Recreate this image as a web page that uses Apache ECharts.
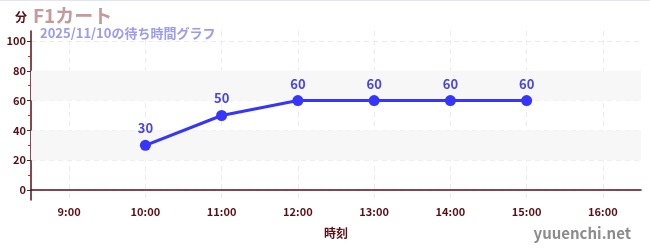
<!DOCTYPE html>
<html><head><meta charset="utf-8">
<script src="https://cdn.jsdelivr.net/npm/echarts@6/dist/echarts.min.js"></script>
<style>html,body{margin:0;padding:0;background:#fff}#c{width:650px;height:250px;box-sizing:border-box;border-top:1px solid #e4e4f8}</style>
</head><body><div id="c"></div>
<script>
const categories = ['9:00','10:00','11:00','12:00','13:00','14:00','15:00','16:00'];
const waitTimes = [null, 30, 50, 60, 60, 60, 60, null];
const yTicks = [0, 20, 40, 60, 80, 100];
const bands = [[20, 40], [60, 80]];
const titleText = 'F1カート';
const subText = '2025/11/10の待ち時間グラフ';

const axisColor = '#5a0f14';
const font = '"Noto Sans CJK JP", "Noto Sans", sans-serif';
const chart = echarts.init(document.getElementById('c'));
chart.setOption({
  animation: false,
  textStyle: {fontFamily: font},
  title: [{
    text: titleText, left: 28, top: 0,
    textStyle: {fontFamily: font, fontSize: 19, fontWeight: 'bold', color: '#c49a9a'}
  }, {
    text: subText, left: 35, top: 21,
    textStyle: {fontFamily: font, fontSize: 13, fontWeight: 'bold', color: '#9a9cf0'}
  }, {
    text: 'yuuenchi.net', right: 14, bottom: 4,
    textStyle: {fontFamily: font, fontSize: 15, fontWeight: 'bold', color: '#8c8c8c'}
  }],
  grid: {left: 31, right: 9, top: 30, bottom: 50, containLabel: false},
  xAxis: {
    type: 'category', data: categories, boundaryGap: true,
    name: '時刻', nameLocation: 'middle', nameGap: 27,
    nameTextStyle: {color: axisColor, fontSize: 12, fontWeight: 'bold', fontFamily: font},
    axisLine: {lineStyle: {color: axisColor, width: 1.5}},
    axisTick: {alignWithLabel: true, length: 4, lineStyle: {color: '#333'}},
    axisLabel: {color: axisColor, fontSize: 11, fontWeight: 'bold', margin: 6, fontFamily: font},
    splitLine: {show: true, alignWithLabel: true, lineStyle: {color: '#ececec', type: [5, 4]}}
  },
  yAxis: {
    type: 'value', min: -6.667, max: 106.667, splitNumber: 5,
    name: '分', nameLocation: 'end', nameGap: 8,
    nameTextStyle: {color: axisColor, fontSize: 12, fontWeight: 'bold', fontFamily: font, align: 'right', padding: [0, 4, 0, 0]},
    axisLine: {show: true, lineStyle: {color: axisColor, width: 1.5}},
    axisTick: {show: true, length: 4, lineStyle: {color: '#333'},
      customValues: yTicks},
    minorTick: {show: true, splitNumber: 2, length: 3, lineStyle: {color: '#e02020'}},
    axisLabel: {color: axisColor, fontSize: 11, fontWeight: 'bold', margin: 5, fontFamily: font,
      customValues: yTicks, showMinLabel: true, showMaxLabel: true},
    splitLine: {show: true, lineStyle: {color: '#ececec', type: [5, 4]}}
  },
  series: [{
    type: 'line', data: waitTimes, connectNulls: false,
    symbol: 'circle', symbolSize: 11,
    lineStyle: {color: '#3535ff', width: 3},
    itemStyle: {color: '#3535ff'},
    label: {show: true, position: 'top', distance: 5, color: '#4646e6', fontSize: 13, fontWeight: 'bold', fontFamily: font},
    markArea: {
      silent: true,
      itemStyle: {color: '#f7f7f7'},
      data: bands.map(b => [{yAxis: b[0]}, {yAxis: b[1]}])
    },
    z: 3
  }]
});
</script></body></html>
